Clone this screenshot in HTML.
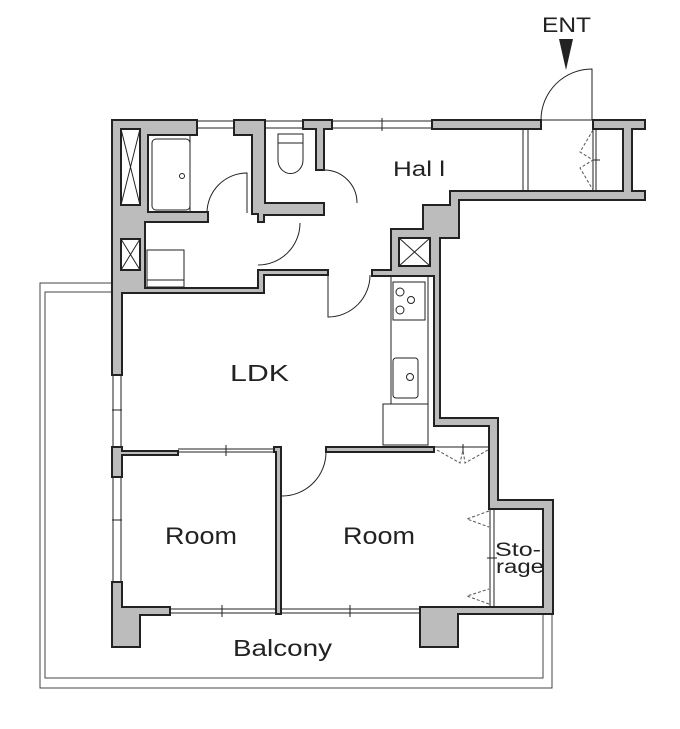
<!DOCTYPE html>
<html><head><meta charset="utf-8"><style>
html,body{margin:0;padding:0;background:#fff}
svg{display:block}
text{font-family:"Liberation Sans",sans-serif;fill:#222}
</style></head><body>
<svg width="680" height="729" viewBox="0 0 680 729" xmlns="http://www.w3.org/2000/svg">
<g fill="none" stroke="#444" stroke-width="1">
<path d="M112 283 H40 V688 H552 V614"/>
<path d="M112 292 H45 V678 H543 V614"/>
</g>
<g fill="#bcbcbc" stroke="#222" stroke-width="2" stroke-linejoin="miter">
<path d="M112 120 H197 V135 H148 V212 H208 V222 H145 V288 H258 V270 H328 V275 H264 V293 H122 V375 H112 Z"/>
<path d="M234 120 H265 V203 H324 V215 H264 V222 H258 V214 H252 V135 H234 Z"/>
<path d="M303 120 H332 V129 H324 V170 H316 V129 H303 Z"/>
<path d="M432 120 H541 V129 H432 Z"/>
<path d="M593 120 H645 V129 H632 V191 H645 V200 H459 V238 H440 V418 H498 V500 H553 V614 H458 V647 H420 V607 H543 V509 H489 V426 H434 V276 H372 V270 H391 V229 H423 V205 H450 V191 H623 V129 H593 Z"/>
<path d="M112 582 H122 V607 H170 V615 H140 V647 H112 Z"/>
<path d="M112 447 H122 V451 H178 V455 H122 V477 H112 Z"/>
<path d="M274 447 H281 V614 H276 V452 H274 Z"/>
<path d="M326 447 H434 V452 H326 Z"/>
</g>
<g fill="none" stroke="#222" stroke-width="1">
<path d="M197 121 H234 M197 128 H234 M265 121 H303 M265 128 H303 M332 121 H432 M332 128 H432 M382 118 V131"/>
<path d="M113 375 V447 M121 375 V447 M112 410 H122 M113 477 V582 M121 477 V582 M112 520 H122"/>
<path d="M178 449 H274 M178 452 H274 M226 445 V456"/>
<path d="M170 609 H276 M170 613 H276 M222 605 V617 M281 609 H420 M281 613 H420 M350 605 V617"/>
<rect x="121" y="129" width="19" height="76" fill="#fff" stroke-width="2"/>
<path d="M121 129 L140 205 M140 129 L121 205"/>
<rect x="121" y="239" width="19" height="31" fill="#fff" stroke-width="2"/>
<path d="M121 239 L140 270 M140 239 L121 270"/>
<rect x="399" y="238" width="31" height="28" fill="#fff" stroke-width="2"/>
<path d="M399 238 L430 266 M430 238 L399 266"/>
<rect x="152" y="139" width="38" height="71" rx="4"/>
<path d="M190 135 V212"/>
<circle cx="182" cy="176" r="2.5"/>
<rect x="147" y="250" width="37" height="37"/><path d="M147 280 H184"/>
<path d="M278 134 H303 V160 A12 13 0 0 1 278 160 Z M278 143 H303"/>
<path d="M247 213 V173 A40 40 0 0 0 207 213"/>
<path d="M258 265 A42 42 0 0 0 300 223"/>
<path d="M324 170 A33 33 0 0 1 357 203"/>
<path d="M328 275 V317 A42 42 0 0 0 370 275"/>
<path d="M326 452 A44 44 0 0 1 282 496"/>
<path d="M592 120 V69 A51 51 0 0 0 541 120 H592"/>
<path d="M523 129 V191 M528 129 V191 M593 129 V191 M596 129 V191 M593 160 H600"/>
<path d="M391 276 V404 M428 276 V404"/>
<rect x="393" y="282" width="32" height="38"/>
<circle cx="400" cy="292" r="4"/><circle cx="411" cy="300" r="3.5"/><circle cx="400" cy="310" r="4"/>
<rect x="393" y="358" width="25" height="40" rx="3"/>
<circle cx="410" cy="377" r="3.5"/>
<rect x="383" y="404" width="45" height="41"/>
<path d="M434 447 H489 M463 444 V452"/>
<path d="M490 509 V607 M494 509 V607 M487 558 H497"/>
</g>
<g fill="none" stroke="#555" stroke-width="1" stroke-dasharray="3 2">
<path d="M593 130 L580 152 L593 160 L580 168 L593 190"/>
<path d="M437 450 L460 463 L463 450 M488 450 L465 463 L463 450"/>
<path d="M489 511 L467 519 L489 527 M489 604 L467 596 L489 589"/>
</g>
<path d="M559 39 H573 L566 70 Z" fill="#222"/>
<text x="542" y="32" font-size="21" textLength="49" lengthAdjust="spacingAndGlyphs">ENT</text>
<text x="393" y="176" font-size="21" textLength="52" lengthAdjust="spacingAndGlyphs">Hal l</text>
<text x="230" y="381" font-size="23" textLength="59" lengthAdjust="spacingAndGlyphs">LDK</text>
<text x="165" y="544" font-size="24" textLength="72" lengthAdjust="spacingAndGlyphs">Room</text>
<text x="343" y="544" font-size="24" textLength="72" lengthAdjust="spacingAndGlyphs">Room</text>
<text x="495" y="556" font-size="19" textLength="46" lengthAdjust="spacingAndGlyphs">Sto-</text>
<text x="496" y="573" font-size="19" textLength="48" lengthAdjust="spacingAndGlyphs">rage</text>
<text x="233" y="656" font-size="23" textLength="99" lengthAdjust="spacingAndGlyphs">Balcony</text>
</svg>
</body></html>
